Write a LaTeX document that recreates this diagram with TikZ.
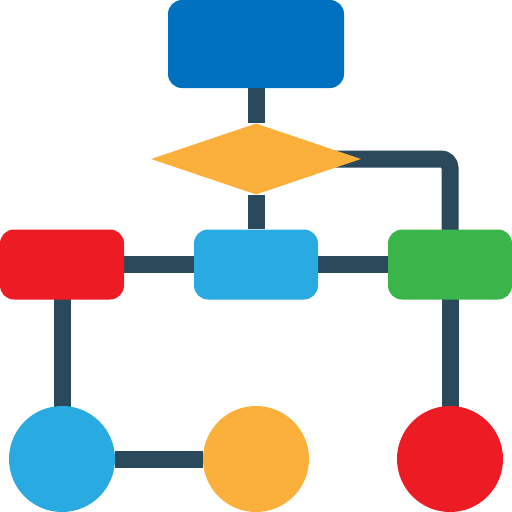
\documentclass[tikz,border=0pt]{standalone}
\usetikzlibrary{shapes.geometric,backgrounds}
\definecolor{conn}{RGB}{42,74,92}
\definecolor{topblue}{RGB}{0,112,192}
\definecolor{orng}{RGB}{251,176,59}
\definecolor{rred}{RGB}{237,28,36}
\definecolor{lblue}{RGB}{41,171,226}
\definecolor{ggreen}{RGB}{57,181,74}
\tikzset{
  box/.style={rectangle, rounded corners=14pt, inner sep=0pt, minimum width=124pt, minimum height=70pt},
  dot/.style={circle, inner sep=0pt, minimum size=106pt},
  link/.style={draw=conn, line width=17pt}
}
\begin{document}
\begin{tikzpicture}[x=1pt,y=-1pt]
\useasboundingbox (0,0) rectangle (512,512);
\node[box, fill=topblue, minimum width=176pt, minimum height=88pt] (top) at (256,44) {};
\node[diamond, fill=orng, inner sep=0pt, minimum width=210pt, minimum height=71pt] (dia) at (256,159) {};
\node[box, fill=rred] (red) at (62,264.5) {};
\node[box, fill=lblue] (mid) at (256,264.5) {};
\node[box, fill=ggreen] (grn) at (450,264.5) {};
\node[dot, fill=lblue] (c1) at (62,459) {};
\node[dot, fill=orng] (c2) at (256,459) {};
\node[dot, fill=rred] (c3) at (450,459) {};
\begin{scope}[on background layer]
\draw[link] (top) -- (dia);
\draw[link] (dia) -- (mid);
\draw[link, rounded corners=9pt] (dia.center) -| (grn.center);
\draw[link] (red) -- (mid);
\draw[link] (mid) -- (grn);
\draw[link] (red.center) -- (c1.center);
\draw[link] (c1) -- (c2);
\draw[link] (grn.center) -- (c3.center);
\end{scope}
\end{tikzpicture}
\end{document}
